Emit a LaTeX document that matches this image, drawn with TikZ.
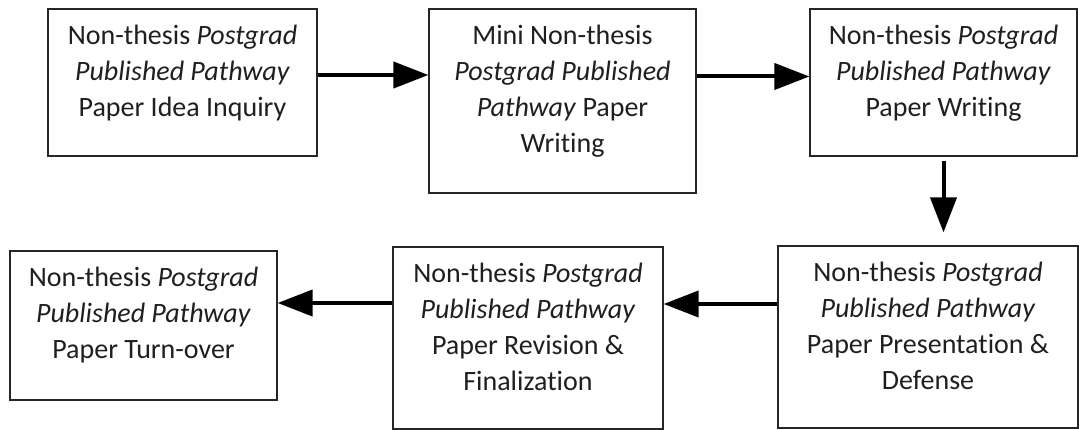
\documentclass[tikz,border=0pt]{standalone}
\usepackage{fontspec}
\setmainfont{Carlito}[Ligatures={NoCommon}]
\usetikzlibrary{arrows.meta,calc}
\begin{document}
\begin{tikzpicture}[x=1pt,y=-1pt,
  stepbox/.style={draw=black!85, line width=1.2pt, inner sep=0pt, rectangle},
  boxtext/.style={anchor=north, inner sep=0pt, align=center, font=\fontsize{28}{36}\selectfont, text=black!88},
  flow/.style={line width=4pt, -{Triangle[length=35pt,width=26pt]}, black}
]
\useasboundingbox (0,0) rectangle (1079,430);
\node[stepbox, minimum width=269pt, minimum height=147pt] (b1) at (182.5,82.5) {};
\node[stepbox, minimum width=267pt, minimum height=184pt] (b2) at (562.5,101) {};
\node[stepbox, minimum width=267pt, minimum height=147pt] (b3) at (943.5,82.5) {};
\node[stepbox, minimum width=300pt, minimum height=182pt] (b4) at (928,337) {};
\node[stepbox, minimum width=270pt, minimum height=182pt] (b5) at (528,338) {};
\node[stepbox, minimum width=267pt, minimum height=149pt] (b6) at (143.5,325.5) {};

\node[boxtext] (t1) at ([yshift=-16pt]b1.north) {Non-thesis \textit{Postgrad}\\ \textit{Published Pathway}\\ Paper Idea Inquiry};
\node[boxtext] (t2) at ([yshift=-16pt]b2.north) {Mini Non-thesis\\ \textit{Postgrad Published}\\ \textit{Pathway} Paper\\ Writing};
\node[boxtext] (t3) at ([yshift=-16pt]b3.north) {Non-thesis \textit{Postgrad}\\ \textit{Published Pathway}\\ Paper Writing};
\node[boxtext] (t4) at ([yshift=-16pt]b4.north) {Non-thesis \textit{Postgrad}\\ \textit{Published Pathway}\\ Paper Presentation \&\\ Defense};
\node[boxtext] (t5) at ([yshift=-16pt]b5.north) {Non-thesis \textit{Postgrad}\\ \textit{Published Pathway}\\ Paper Revision \&\\ Finalization};
\node[boxtext] (t6) at ([yshift=-16pt]b6.north) {Non-thesis \textit{Postgrad}\\ \textit{Published Pathway}\\ Paper Turn-over};

\draw[flow] ($(b1.east)+(0,-7.5)$) -- ($(b2.west |- b1.east)+(0,-7.5)$);
\draw[flow] ($(b2.east |- b3.west)+(0,-6)$) -- ($(b3.west)+(0,-6)$);
\draw[flow] ($(b3.south)+(0,4)$) -- ($(b3.south |- b4.north)+(0,-13)$);
\draw[flow] ($(b4.west)+(0,-33)$) -- ($(b5.east |- b4.west)+(0,-33)$);
\draw[flow] ($(b5.west)+(0,-35)$) -- ($(b6.east |- b5.west)+(0,-35)$);
\end{tikzpicture}
\end{document}
